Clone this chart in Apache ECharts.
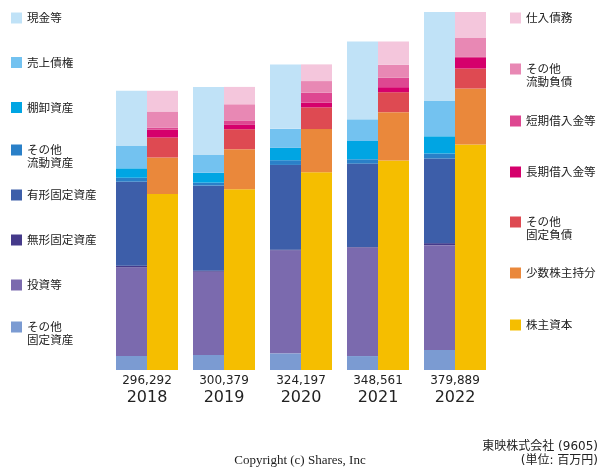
<!DOCTYPE html>
<html><head><meta charset="utf-8">
<script src="https://cdn.jsdelivr.net/npm/echarts@6/dist/echarts.min.js"></script>
<style>html,body{margin:0;padding:0;background:#fff}#c{width:600px;height:470px}</style>
</head><body><div id="c"></div>
<script>
// ---- data (百万円) ----
const years = ['2018', '2019', '2020', '2021', '2022'];
const totals = ['296,292', '300,379', '324,197', '348,561', '379,889'];

const genkin = [58600, 72200, 68300, 82500, 94500];          // 現金等
const uriage = [23700, 18800, 20200, 23000, 37400];          // 売上債権
const tanaoroshi = [10000, 10600, 13100, 19400, 18300];      // 棚卸資産
const sonotaRyudo = [4200, 3200, 5000, 4600, 5300];          // その他流動資産
const yukei = [89100, 90200, 89900, 88400, 89800];           // 有形固定資産
const mukei = [1700, 1100, 700, 600, 2100];                  // 無形固定資産
const toshi = [94100, 88400, 109300, 115200, 111300];        // 投資等
const sonotaKotei = [14900, 15900, 17700, 14800, 21200];     // その他固定資産

const shiire = [22000, 18400, 17700, 24700, 27600];          // 仕入債務
const sonotaRyudoFusai = [17000, 17700, 12400, 13800, 20100];// その他流動負債
const tanki = [2400, 4200, 10600, 10000, 1100];              // 短期借入金等
const choki = [8200, 4600, 4900, 5300, 11200];               // 長期借入金等
const sonotaKoteiFusai = [21200, 21200, 23000, 21200, 21200];// その他固定負債
const shosu = [38800, 42400, 45900, 51200, 59400];           // 少数株主持分
const kabunushi = [186700, 191900, 209800, 222400, 239300];  // 株主資本

// ---- series definitions (bottom to top) ----
const assets = [
  ['その他\n固定資産', sonotaKotei, '#7b9bd2'],
  ['投資等', toshi, '#7b6aae'],
  ['無形固定資産', mukei, '#453a8a'],
  ['有形固定資産', yukei, '#3d5ea9'],
  ['その他\n流動資産', sonotaRyudo, '#2a80c8'],
  ['棚卸資産', tanaoroshi, '#00a5e3'],
  ['売上債権', uriage, '#73c2f0'],
  ['現金等', genkin, '#c0e2f7']
];
const liabs = [
  ['株主資本', kabunushi, '#f5be00'],
  ['少数株主持分', shosu, '#ea883b'],
  ['その他\n固定負債', sonotaKoteiFusai, '#de4a52'],
  ['長期借入金等', choki, '#d5006c'],
  ['短期借入金等', tanki, '#de4791'],
  ['その他\n流動負債', sonotaRyudoFusai, '#e888b4'],
  ['仕入債務', shiire, '#f4c6dc']
];

const series = [];
assets.forEach(a => series.push({name: a[0], type: 'bar', stack: 'A', barWidth: 31, barGap: '0%',
  data: a[1], itemStyle: {color: a[2]}, emphasis: {disabled: true}}));
liabs.forEach(a => series.push({name: a[0], type: 'bar', stack: 'B', barWidth: 31, barGap: '0%',
  data: a[1], itemStyle: {color: a[2]}, emphasis: {disabled: true}}));

// legends (top to bottom)
const leftOrder = assets.slice().reverse();
const rightOrder = liabs.slice().reverse();
const leftTops = [13, 57.5, 102.5, 145, 190, 235, 280, 322];
const rightTops = [13, 64, 116, 167, 217, 268, 320];
const squareIcon = 'path://M0,0h11v11h-11z';
const tallIcon = 'path://M0,0h11v11h-11z M5,24h0.01v-0.01h-0.01z';
const legends = [];
function addLegend(item, left, top) {
  const two = item[0].indexOf('\n') >= 0;
  legends.push({
    left: left, top: top - 1.5, padding: 0, orient: 'vertical',
    itemWidth: 11, itemHeight: two ? 24 : 11, itemGap: 0,
    selectedMode: false,
    data: [{name: item[0], icon: two ? tallIcon : squareIcon}],
    textStyle: {fontSize: 11.6, lineHeight: 13, color: '#222', fontFamily: 'Noto Sans CJK JP'}
  });
}
leftOrder.forEach((it, i) => addLegend(it, 11, leftTops[i]));
rightOrder.forEach((it, i) => addLegend(it, 510, rightTops[i]));

const chart = echarts.init(document.getElementById('c'));
chart.setOption({
  animation: false,
  legend: legends,
  grid: {left: 108.5, right: 106.5, top: 12, bottom: 100},
  xAxis: {
    type: 'category', data: years,
    axisLine: {show: false}, axisTick: {show: false},
    axisLabel: {
      margin: 3, interval: 0,
      formatter: (v, i) => '{a|' + totals[i] + '}\n{b|' + v + '}',
      rich: {
        a: {fontSize: 12, lineHeight: 15, color: '#222', fontFamily: 'DejaVu Sans'},
        b: {fontSize: 16, lineHeight: 19, color: '#222', fontFamily: 'DejaVu Sans'}
      }
    }
  },
  yAxis: {type: 'value', min: 0, max: 379889, show: false, splitLine: {show: false}},
  graphic: [
    {type: 'text', right: 2, top: 441, style: {text: '東映株式会社 (9605)', fontSize: 12, fill: '#222', fontFamily: 'DejaVu Sans, Noto Sans CJK JP', align: 'right'}},
    {type: 'text', right: 2, top: 455, style: {text: '(単位: 百万円)', fontSize: 12, fill: '#222', fontFamily: 'DejaVu Sans, Noto Sans CJK JP', align: 'right'}},
    {type: 'text', left: 'center', top: 454, style: {text: 'Copyright (c) Shares, Inc', fontSize: 13, fill: '#222', fontFamily: 'Liberation Serif'}}
  ],
  series: series
});
</script></body></html>
